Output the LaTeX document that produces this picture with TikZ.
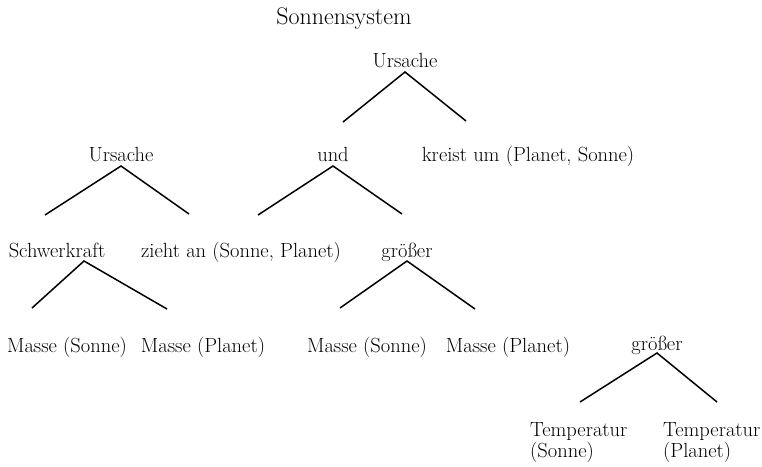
\documentclass[tikz,border=0pt]{standalone}
\usepackage{tikz}
\tikzset{lbl/.style={inner sep=0pt,anchor=base,font=\fontsize{20.5}{21}\selectfont},twig/.style={line width=1.5pt,line join=miter}}

\begin{document}
\begin{tikzpicture}[x=1pt,y=-1pt]
\useasboundingbox (0,0) rectangle (762,466);
\node[lbl,font=\fontsize{24}{24}\selectfont](sys) at (344,24){Sonnensystem};
\node[lbl](ursA) at (405,67){Ursache};
\node[lbl](ursB) at (121,161){Ursache};
\node[lbl](und) at (333,161){und};
\node[lbl](kreist) at (528,161){kreist um (Planet, Sonne)};
\node[lbl](schwer) at (57,257){Schwerkraft};
\node[lbl](zieht) at (241,257){zieht an (Sonne, Planet)};
\node[lbl](grA) at (407,257){größer};
\node[lbl](mSa) at (67,352){Masse (Sonne)};
\node[lbl](mPa) at (203,352){Masse (Planet)};
\node[lbl](mSb) at (367,352){Masse (Sonne)};
\node[lbl](mPb) at (508,352){Masse (Planet)};
\node[lbl](grB) at (657,350){größer};
\node[lbl,anchor=north west,align=left](tS) at (530,422){Temperatur\\(Sonne)};
\node[lbl,anchor=north west,align=left](tP) at (663,422){Temperatur\\(Planet)};
% free ends of the branches
\coordinate (ursAl) at (343,122); \coordinate (ursAr) at (466,121);
\coordinate (ursBl) at (45,215); \coordinate (ursBr) at (189,214);
\coordinate (undl) at (258,215); \coordinate (undr) at (402,214);
\coordinate (schwerl) at (32,308); \coordinate (schwerr) at (167,309);
\coordinate (grAl) at (340,308); \coordinate (grAr) at (475,309);
\coordinate (grBl) at (580,402); \coordinate (grBr) at (717,402);
\draw[twig](ursAl)--([yshift=-5pt]ursA.base)--(ursAr);
\draw[twig](ursBl)--([yshift=-5pt]ursB.base)--(ursBr);
\draw[twig](undl)--([yshift=-5pt]und.base)--(undr);
\draw[twig](schwerl)--([xshift=27pt,yshift=-4pt]schwer.base)--(schwerr);
\draw[twig](grAl)--([yshift=-4pt]grA.base)--(grAr);
\draw[twig](grBl)--([yshift=-3pt]grB.base)--(grBr);
\end{tikzpicture}
\end{document}
